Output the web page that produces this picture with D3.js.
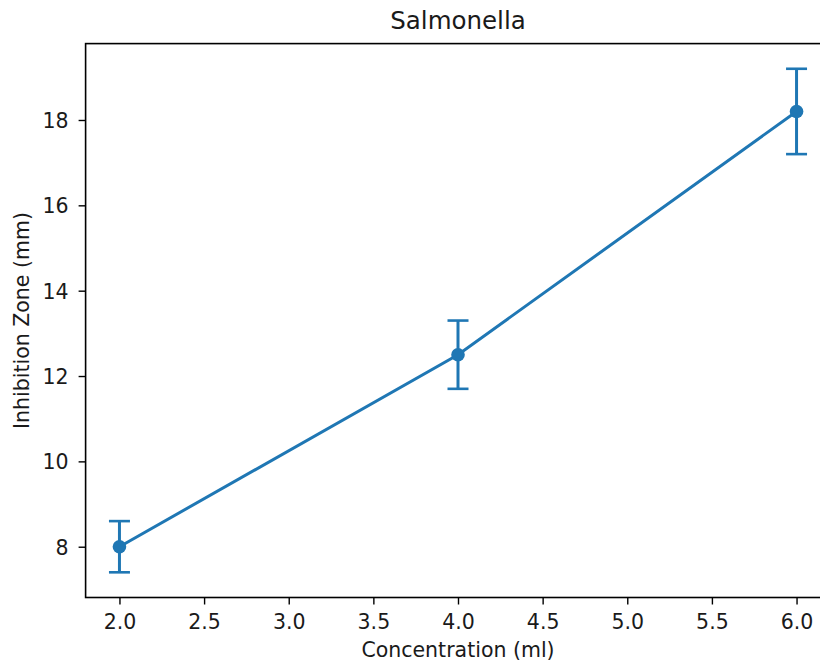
<!DOCTYPE html>
<html>
  <head>
    <meta charset="utf-8">
    <title>Salmonella</title>
    <script src="https://d3js.org/d3.v7.min.js"></script>
    <style>
      body { margin: 0; background: white; }
      text { font-family: "DejaVu Sans", sans-serif; fill: #1a1a1a; }
    </style>
  </head>
  <body>
    <svg id="chart" width="820" height="667"></svg>
    <script>
      // data
      var concentration = [2, 4, 6];
      var zone = [8.0, 12.5, 18.2];
      var zoneErr = [0.6, 0.8, 1.0];
      var xTicks = [2.0, 2.5, 3.0, 3.5, 4.0, 4.5, 5.0, 5.5, 6.0];
      var yTicks = [8, 10, 12, 14, 16, 18];

      var points = concentration.map(function(d, i) {
        return { x: d, y: zone[i], err: zoneErr[i] };
      });

      var svg = d3.select("#chart");
      var plotLeft = 85.6, plotRight = 830.4, plotTop = 43.6, plotBottom = 597.5;
      var blue = "#1f77b4";

      // matplotlib style 5% margins
      var xMin = d3.min(concentration), xMax = d3.max(concentration);
      var xPad = (xMax - xMin) * 0.05;
      var yLo = d3.min(points, function(d) { return d.y - d.err; });
      var yHi = d3.max(points, function(d) { return d.y + d.err; });
      var yPad = (yHi - yLo) * 0.05;

      var x = d3.scaleLinear()
        .domain([xMin - xPad, xMax + xPad])
        .range([plotLeft, plotRight]);
      var y = d3.scaleLinear()
        .domain([yLo - yPad, yHi + yPad])
        .range([plotBottom, plotTop]);

      // axes
      var xAxis = d3.axisBottom(x)
        .tickValues(xTicks)
        .tickFormat(d3.format(".1f"))
        .tickSize(7)
        .tickPadding(7)
        .tickSizeOuter(0);
      var yAxis = d3.axisLeft(y)
        .tickValues(yTicks)
        .tickFormat(d3.format("d"))
        .tickSize(7)
        .tickPadding(7)
        .tickSizeOuter(0);

      var gx = svg.append("g")
        .attr("transform", "translate(0," + plotBottom + ")")
        .call(xAxis);
      gx.select(".domain").remove();
      gx.selectAll(".tick line").attr("stroke", "#000").attr("stroke-width", 1.4);
      gx.selectAll(".tick text")
        .attr("dy", null)
        .attr("y", 31)
        .attr("font-family", null)
        .attr("font-size", null)
        .style("font-size", "20.5px");

      var gy = svg.append("g")
        .attr("transform", "translate(" + plotLeft + ",0)")
        .call(yAxis);
      gy.select(".domain").remove();
      gy.selectAll(".tick line").attr("stroke", "#000").attr("stroke-width", 1.4);
      gy.selectAll(".tick text")
        .attr("dy", "0.36em")
        .attr("x", -17)
        .attr("font-family", null)
        .attr("font-size", null)
        .style("font-size", "20.5px");

      // frame
      svg.append("rect")
        .attr("x", plotLeft)
        .attr("y", plotTop)
        .attr("width", plotRight - plotLeft)
        .attr("height", plotBottom - plotTop)
        .attr("fill", "none")
        .attr("stroke", "#000")
        .attr("stroke-width", 1.6);

      // line
      var line = d3.line()
        .x(function(d) { return x(d.x); })
        .y(function(d) { return y(d.y); });
      svg.append("path")
        .datum(points)
        .attr("d", line)
        .attr("fill", "none")
        .attr("stroke", blue)
        .attr("stroke-width", 3);

      // error bars
      var bars = svg.selectAll(".err")
          .data(points)
        .enter().append("g")
          .classed("err", true)
          .attr("stroke", blue)
          .attr("stroke-width", 3);
      bars.append("line")
        .attr("x1", function(d) { return x(d.x); })
        .attr("x2", function(d) { return x(d.x); })
        .attr("y1", function(d) { return y(d.y - d.err); })
        .attr("y2", function(d) { return y(d.y + d.err); });
      bars.append("line")
        .attr("x1", function(d) { return x(d.x) - 10.5; })
        .attr("x2", function(d) { return x(d.x) + 10.5; })
        .attr("y1", function(d) { return y(d.y + d.err); })
        .attr("y2", function(d) { return y(d.y + d.err); })
        .attr("stroke-width", 2.6);
      bars.append("line")
        .attr("x1", function(d) { return x(d.x) - 10.5; })
        .attr("x2", function(d) { return x(d.x) + 10.5; })
        .attr("y1", function(d) { return y(d.y - d.err); })
        .attr("y2", function(d) { return y(d.y - d.err); })
        .attr("stroke-width", 2.6);

      // markers
      svg.selectAll(".dot")
          .data(points)
        .enter().append("circle")
          .classed("dot", true)
          .attr("cx", function(d) { return x(d.x); })
          .attr("cy", function(d) { return y(d.y); })
          .attr("r", 6.8)
          .attr("fill", blue);

      // labels
      svg.append("text")
        .attr("x", (plotLeft + plotRight) / 2)
        .attr("y", 29)
        .attr("text-anchor", "middle")
        .style("font-size", "24.5px")
        .text("Salmonella");
      svg.append("text")
        .attr("x", (plotLeft + plotRight) / 2)
        .attr("y", 657)
        .attr("text-anchor", "middle")
        .style("font-size", "20.5px")
        .text("Concentration (ml)");
      svg.append("text")
        .attr("transform", "translate(28.5," + ((plotTop + plotBottom) / 2) + ") rotate(-90)")
        .attr("text-anchor", "middle")
        .style("font-size", "20.5px")
        .text("Inhibition Zone (mm)");
    </script>
  </body>
</html>
